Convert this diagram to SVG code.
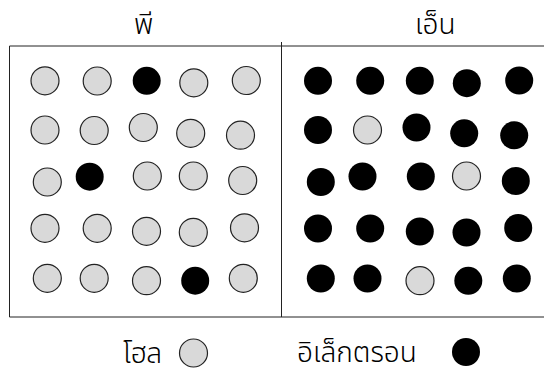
<svg xmlns="http://www.w3.org/2000/svg" width="544" height="376" viewBox="0 0 544 376">
<style>
.h{fill:#d9d9d9;stroke:#222;stroke-width:1.2}
.e{fill:#000}
.ln{stroke:#222;stroke-width:1;fill:none}
.t{font-family:"Noto Sans Thai","Loma","Garuda","Tlwg Typo","Noto Sans","DejaVu Sans",sans-serif;font-size:28px;font-weight:300;fill:#000}
</style>
<rect width="544" height="376" fill="#fff"/>
<g id="frame">
<path class="ln" d="M9.5 46H544M9.5 317H544M9.5 46V317M281.5 42V317"/>
</g>
<g id="label-p"><text class="t" x="134" y="34">พี</text></g>
<g id="label-n"><text class="t" x="415" y="34">เอ็น</text></g>
<g id="p-region">
<circle class="h" cx="45" cy="80.8" r="14"/><circle class="h" cx="97.2" cy="81" r="14"/><circle class="e" cx="146.7" cy="80.8" r="14"/><circle class="h" cx="193.8" cy="82.8" r="14"/><circle class="h" cx="246.3" cy="80.5" r="14"/>
<circle class="h" cx="45" cy="130" r="14"/><circle class="h" cx="94.2" cy="130.5" r="14"/><circle class="h" cx="143.3" cy="127.5" r="14"/><circle class="h" cx="190.7" cy="133.3" r="14"/><circle class="h" cx="240.5" cy="135.2" r="14"/>
<circle class="h" cx="47.3" cy="182" r="14"/><circle class="e" cx="89.7" cy="176.7" r="14"/><circle class="h" cx="147.3" cy="176" r="14"/><circle class="h" cx="193.3" cy="176" r="14"/><circle class="h" cx="242.7" cy="180.5" r="14"/>
<circle class="h" cx="45" cy="228.3" r="14"/><circle class="h" cx="97.2" cy="228.3" r="14"/><circle class="h" cx="146.5" cy="231.3" r="14"/><circle class="h" cx="193.3" cy="232.3" r="14"/><circle class="h" cx="244.5" cy="227.8" r="14"/>
<circle class="h" cx="47.3" cy="278.3" r="14"/><circle class="h" cx="94.2" cy="278.3" r="14"/><circle class="h" cx="146.5" cy="280.7" r="14"/><circle class="e" cx="195.2" cy="280.7" r="14"/><circle class="h" cx="243.3" cy="278.3" r="14"/>
</g>
<g id="n-region">
<circle class="e" cx="318" cy="80.8" r="14"/><circle class="e" cx="370.2" cy="80.8" r="14"/><circle class="e" cx="419.8" cy="80.8" r="14"/><circle class="e" cx="466.8" cy="83.2" r="14"/><circle class="e" cx="519.2" cy="80.5" r="14"/>
<circle class="e" cx="318" cy="130" r="14"/><circle class="h" cx="367.5" cy="130" r="14"/><circle class="e" cx="416.5" cy="127.5" r="14"/><circle class="e" cx="464.2" cy="133.3" r="14"/><circle class="e" cx="514.2" cy="135.3" r="14"/>
<circle class="e" cx="320.8" cy="182" r="14"/><circle class="e" cx="362.5" cy="176.5" r="14"/><circle class="e" cx="420.8" cy="176.5" r="14"/><circle class="h" cx="466.5" cy="176" r="14"/><circle class="e" cx="515.8" cy="181" r="14"/>
<circle class="e" cx="318" cy="228.5" r="14"/><circle class="e" cx="370.2" cy="228.5" r="14"/><circle class="e" cx="419.8" cy="231.5" r="14"/><circle class="e" cx="466.5" cy="232.5" r="14"/><circle class="e" cx="518.2" cy="228" r="14"/>
<circle class="e" cx="320.8" cy="278.5" r="14"/><circle class="e" cx="367.5" cy="278.5" r="14"/><circle class="h" cx="420" cy="280.7" r="14"/><circle class="e" cx="468.3" cy="280.8" r="14"/><circle class="e" cx="516.8" cy="278.5" r="14"/>
</g>
<g id="legend-hole">
<text class="t" x="123" y="363">โฮล</text>
<circle class="h" cx="193.5" cy="353" r="14"/>
</g>
<g id="legend-electron">
<text class="t" x="297" y="362">อิเล็กตรอน</text>
<circle class="e" cx="466" cy="352" r="14"/>
</g>
</svg>
